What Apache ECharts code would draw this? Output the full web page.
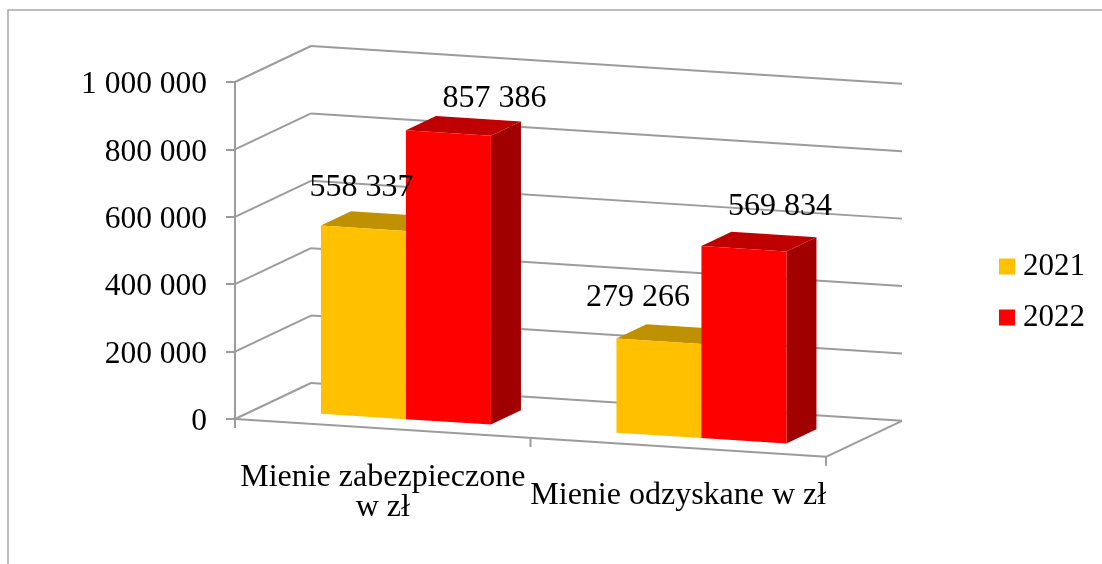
<!DOCTYPE html>
<html>
<head>
<meta charset="utf-8">
<title>Mienie zabezpieczone i odzyskane</title>
<style>
  html, body { margin: 0; padding: 0; background: #fff; }
  #chart { width: 1102px; height: 564px; }
</style>
<script src="https://cdn.jsdelivr.net/npm/echarts@6/dist/echarts.min.js"></script>
</head>
<body>
<div id="chart"></div>
<script>
const categories = ['Mienie zabezpieczone w zł', 'Mienie odzyskane w zł']
const years = ['2021', '2022']
const values2021 = [558337, 279266]
const values2022 = [857386, 569834]
const yTicks = [0, 200000, 400000, 600000, 800000, 1000000]

const FONT = '"Liberation Serif", serif'
const LINE = '#9c9c9c'
const colors = {
  2021: { front: '#ffc000', top: '#bf9000', side: '#a07800' },
  2022: { front: '#ff0000', top: '#bf0000', side: '#a00000' }
}

// fake 3D: shear from the flat grid plane into the picture
const DEPTH_X = 76
const DEPTH_Y = 36
const SLOPE = 0.064
const BAR_GAP = 0.223 // share of the category band
const BAR_W = 0.2876
const BAR_D0 = 0.264
const BAR_D1 = 0.659
// hand-moved data labels in the original, px from the top of each bar
const labelShift = [[[-2, -41], [-21, -44]], [[46, -34], [36, -42]]]

const fmt = (v) => String(v).replace(/\B(?=(\d{3})+$)/g, ' ')

const project = (cs, x, y, d) => [
  x + DEPTH_X * d,
  y + SLOPE * (x - cs.x) - DEPTH_Y * d
]

const line = (a, b) => ({
  type: 'line',
  shape: { x1: a[0], y1: a[1], x2: b[0], y2: b[1] },
  style: { stroke: LINE, lineWidth: 2, fill: null }
})

const poly = (points, fill) => ({
  type: 'polygon',
  shape: { points },
  style: { fill }
})

// walls + floor
const renderWalls = (params, api) => {
  const cs = params.coordSys
  const left = cs.x
  const right = cs.x + cs.width
  const y = api.coord([0, api.value(1)])[1]
  const children = [
    line(project(cs, left, y, 0), project(cs, left, y, 1)),
    line(project(cs, left, y, 1), project(cs, right, y, 1))
  ]
  if (api.value(1) === 0) {
    children.push(line(project(cs, left, y, 0), project(cs, right, y, 0)))
    children.push(line(project(cs, right, y, 0), project(cs, right, y, 1)))
    for (let i = 0; i <= categories.length; i++) {
      const x = left + (cs.width * i) / categories.length
      const p = project(cs, x, y, 0)
      children.push(line(p, [p[0], p[1] + 9]))
    }
  }
  return { type: 'group', children }
}

const barRenderer = (k, year) => (params, api) => {
  const cs = params.coordSys
  const c = colors[year]
  const center = api.coord([api.value(0), 0])
  const band = api.size([1, 0])[0]
  const x0 = center[0] - band / 2 + band * (BAR_GAP + k * BAR_W)
  const x1 = x0 + band * BAR_W
  const yB = center[1]
  const yT = api.coord([api.value(0), api.value(1)])[1]
  const p = (x, y, d) => project(cs, x, y, d)
  return {
    type: 'group',
    children: [
      poly([p(x1, yB, BAR_D0), p(x1, yB, BAR_D1), p(x1, yT, BAR_D1), p(x1, yT, BAR_D0)], c.side),
      poly([p(x0, yT, BAR_D0), p(x0, yT, BAR_D1), p(x1, yT, BAR_D1), p(x1, yT, BAR_D0)], c.top),
      poly([p(x0, yB, BAR_D0), p(x1, yB, BAR_D0), p(x1, yT, BAR_D0), p(x0, yT, BAR_D0)], c.front)
    ]
  }
}

const renderLabel = (params, api) => {
  const cs = params.coordSys
  const cat = api.value(0)
  const k = api.value(2)
  const band = api.size([1, 0])[0]
  const pos = api.coord([cat, api.value(1)])
  const xMid = pos[0] - band / 2 + band * (BAR_GAP + (k + 0.5) * BAR_W)
  const top = project(cs, xMid, pos[1], BAR_D0)
  const shift = labelShift[k][cat]
  return {
    type: 'text',
    x: top[0] + shift[0],
    y: top[1] + shift[1],
    style: {
      text: fmt(api.value(1)),
      font: '32px ' + FONT,
      fill: '#000',
      textAlign: 'center',
      textVerticalAlign: 'middle'
    }
  }
}

const toRows = (arr) => arr.map((v, i) => [i, v])
const labelRows = [values2021, values2022].flatMap((arr, k) => arr.map((v, i) => [i, v, k]))

const chart = echarts.init(document.getElementById('chart'), null, { renderer: 'canvas' })
chart.setOption({
  animation: false,
  backgroundColor: '#fff',
  textStyle: { fontFamily: FONT },
  graphic: [{
    type: 'rect',
    z: -1,
    shape: { x: 8, y: 10, width: 1300, height: 800 },
    style: { fill: null, stroke: '#a6a6a6', lineWidth: 1.5 }
  }],
  grid: { left: 235, right: 276, top: 82, bottom: 145 },
  legend: {
    data: years,
    orient: 'vertical',
    left: 994,
    top: 246,
    itemWidth: 16,
    itemHeight: 16,
    itemGap: 20,
    icon: 'rect',
    selectedMode: false,
    textStyle: { fontFamily: FONT, fontSize: 31, color: '#000', padding: [0, 0, 0, 3] }
  },
  xAxis: {
    type: 'category',
    data: categories,
    axisLine: { show: false },
    axisTick: { show: false },
    axisLabel: {
      interval: 0,
      margin: 44,
      color: '#000',
      fontFamily: FONT,
      fontSize: 32,
      formatter: (v, i) => i === 0
        ? '{up|Mienie zabezpieczone}\n{up|w zł}'
        : '{low|' + v + '}',
      rich: {
        up: { fontFamily: FONT, fontSize: 32, lineHeight: 30, color: '#000' },
        low: { fontFamily: FONT, fontSize: 32, lineHeight: 30, color: '#000', padding: [36, 0, 0, 0] }
      }
    }
  },
  yAxis: {
    type: 'value',
    min: 0,
    max: 1000000,
    interval: 200000,
    splitLine: { show: false },
    axisLine: { show: true, lineStyle: { color: LINE, width: 2 } },
    axisTick: { show: true, length: 9, lineStyle: { color: LINE, width: 2 } },
    axisLabel: {
      margin: 28,
      color: '#000',
      fontFamily: FONT,
      fontSize: 31.5,
      formatter: (v) => '{n|' + fmt(v) + '}',
      rich: {
        n: { fontFamily: FONT, fontSize: 31.5, color: '#000', padding: [6, 0, 0, 0] }
      }
    }
  },
  series: [
    {
      name: 'walls',
      type: 'custom',
      z: 1,
      silent: true,
      renderItem: renderWalls,
      encode: { x: 0, y: 1 },
      data: yTicks.map((v) => [0, v])
    },
    {
      name: years[0],
      type: 'custom',
      z: 2,
      itemStyle: { color: colors[2021].front },
      renderItem: barRenderer(0, years[0]),
      encode: { x: 0, y: 1 },
      data: toRows(values2021)
    },
    {
      name: years[1],
      type: 'custom',
      z: 3,
      itemStyle: { color: colors[2022].front },
      renderItem: barRenderer(1, years[1]),
      encode: { x: 0, y: 1 },
      data: toRows(values2022)
    },
    {
      name: 'labels',
      type: 'custom',
      z: 4,
      silent: true,
      renderItem: renderLabel,
      encode: { x: 0, y: 1 },
      data: labelRows
    }
  ]
})
</script>
</body>
</html>
